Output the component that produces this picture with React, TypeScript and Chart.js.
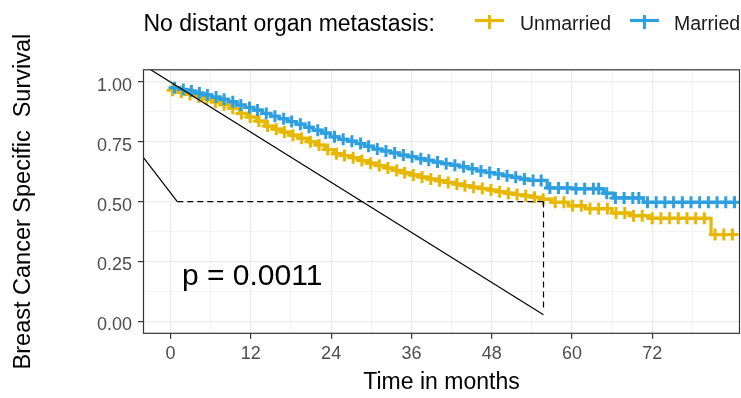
import React, { useEffect, useRef } from 'react';
import { Chart, registerables } from 'chart.js';

Chart.register(...registerables);

// ---------- data ----------
const legendTitle = 'No distant organ metastasis:';
const groupNames = ['Unmarried', 'Married'];
const groupColors = ['#E7B800', '#2E9FDF'];
const xTitle = 'Time in months';
const yTitle = 'Breast Cancer Specific  Survival';
const pValueText = 'p = 0.0011';

const xMajorTicks = [0, 12, 24, 36, 48, 60, 72];
const xMinorTicks = [6, 18, 30, 42, 54, 66, 78];
const yMajorTicks = [0, 0.25, 0.5, 0.75, 1];
const yMinorTicks = [0.125, 0.375, 0.625, 0.875];
const xLimits = [-4.05, 85.05];
const yLimits = [-0.05, 1.05];

// Unmarried: event times and survival after each step
const unmarriedTimes = [0, 1.3, 2.6, 3.9, 5.1, 6.4, 7.7, 9.0, 10.3, 11.6, 12.9, 14.1, 15.4, 16.7, 18.0, 19.3, 20.5, 21.8, 23.1, 24.4, 25.7, 27.0, 28.3, 29.5, 30.8, 32.1, 33.4, 34.7, 36.0, 37.3, 38.5, 39.8, 41.1, 42.4, 43.7, 45.0, 46.3, 47.6, 48.9, 50.2, 51.5, 52.8, 54.1, 55.4, 57.0, 59.5, 62.0, 66.0, 69.0, 71.5, 80.8];
const unmarriedSurv = [0.965, 0.956, 0.947, 0.937, 0.927, 0.916, 0.904, 0.889, 0.868, 0.853, 0.836, 0.815, 0.802, 0.790, 0.777, 0.764, 0.750, 0.736, 0.717, 0.700, 0.692, 0.683, 0.671, 0.660, 0.650, 0.640, 0.630, 0.620, 0.611, 0.602, 0.594, 0.587, 0.580, 0.573, 0.566, 0.560, 0.554, 0.548, 0.541, 0.535, 0.529, 0.524, 0.518, 0.510, 0.497, 0.482, 0.470, 0.452, 0.441, 0.430, 0.362];
const unmarriedCensor = [0.3, 1.6, 2.9, 4.2, 5.4, 6.7, 8.0, 9.3, 10.6, 11.9, 13.2, 14.5, 15.8, 17.0, 18.3, 19.6, 20.9, 22.2, 23.5, 24.8, 26.0, 27.3, 28.6, 29.9, 31.2, 32.5, 33.8, 35.0, 36.3, 37.6, 38.9, 40.2, 41.5, 42.8, 44.0, 45.3, 46.6, 47.9, 49.2, 50.5, 51.8, 53.1, 54.4, 55.7, 57.5, 58.8, 60.1, 61.4, 62.7, 64.0, 65.3, 66.6, 67.9, 69.2, 70.5, 72.0, 73.3, 74.6, 75.9, 77.2, 78.5, 79.8, 81.4, 82.7, 84.0];

// Married
const marriedTimes = [0, 1.2, 2.5, 3.6, 4.8, 6.1, 7.3, 8.6, 9.8, 11.1, 12.4, 13.7, 15.0, 16.2, 17.5, 18.8, 20.1, 21.3, 22.6, 23.9, 25.2, 26.5, 27.8, 29.0, 30.3, 31.6, 32.9, 34.2, 35.5, 36.8, 38.0, 39.3, 40.6, 41.9, 43.2, 44.5, 45.8, 47.1, 48.4, 49.7, 51.0, 52.3, 53.6, 56.3, 60.0, 64.7, 66.2, 70.7];
const marriedSurv = [0.975, 0.968, 0.961, 0.953, 0.945, 0.936, 0.927, 0.917, 0.903, 0.893, 0.882, 0.868, 0.856, 0.846, 0.834, 0.823, 0.810, 0.798, 0.786, 0.770, 0.760, 0.752, 0.742, 0.731, 0.719, 0.711, 0.703, 0.694, 0.687, 0.679, 0.672, 0.665, 0.658, 0.652, 0.645, 0.637, 0.628, 0.621, 0.615, 0.608, 0.601, 0.594, 0.588, 0.557, 0.553, 0.535, 0.515, 0.497];
const marriedCensor = [0.6, 1.9, 3.1, 4.3, 5.5, 6.8, 8.0, 9.3, 10.5, 11.8, 13.0, 14.3, 15.6, 16.9, 18.1, 19.4, 20.7, 22.0, 23.2, 24.5, 25.8, 27.1, 28.4, 29.6, 30.9, 32.2, 33.5, 34.8, 36.1, 37.4, 38.6, 39.9, 41.2, 42.5, 43.8, 45.1, 46.4, 47.7, 49.0, 50.3, 51.6, 52.9, 54.2, 55.4, 56.7, 58.0, 59.3, 60.6, 61.9, 63.2, 64.0, 65.2, 66.5, 67.8, 69.1, 70.0, 71.3, 72.6, 73.9, 75.2, 76.5, 77.8, 79.1, 80.4, 81.7, 83.0, 84.3];

// black annotation lines
const diagonalX = [-4.05, 55.75];
const diagonalY = [1.069, 0.027];
const shortLineX = [-4.05, 1.0];
const shortLineY = [0.683, 0.5];
const medianHX = [1.0, 55.75];
const medianHY = [0.5, 0.5];
const medianVX = [55.75, 55.75];
const medianVY = [0.5, 0.045];
const pValuePos = [1.7, 0.152];

// ---------- helpers ----------
const FONT = '"Liberation Sans", Arial, Helvetica, sans-serif';

function stepValue(times: number[], surv: number[], t: number) {
  let v = surv[0];
  for (let i = 0; i < times.length; i++) if (times[i] <= t) v = surv[i];
  return v;
}
function stepData(times: number[], surv: number[], censor: number[]) {
  const pts = times.map((t, i) => ({ x: t, y: surv[i] }));
  const last = censor[censor.length - 1];
  pts.push({ x: last, y: stepValue(times, surv, last) });
  return pts;
}
function censorData(times: number[], surv: number[], censor: number[]) {
  return censor.map((t) => ({ x: t, y: stepValue(times, surv, t) }));
}
function pairs(xs: number[], ys: number[]) {
  return xs.map((x, i) => ({ x, y: ys[i] }));
}

const overlayPlugin = {
  id: 'overlay',
  afterDatasetsDraw(chart: any) {
    const { ctx, chartArea, scales } = chart;
    ctx.save();
    // p-value text
    ctx.fillStyle = '#000';
    ctx.font = `30px ${FONT}`;
    ctx.textBaseline = 'alphabetic';
    ctx.textAlign = 'left';
    ctx.fillText(pValueText, scales.x.getPixelForValue(pValuePos[0]), scales.y.getPixelForValue(pValuePos[1]));
    // panel border
    ctx.strokeStyle = '#333333';
    ctx.lineWidth = 1.2;
    ctx.strokeRect(chartArea.left, chartArea.top, chartArea.right - chartArea.left, chartArea.bottom - chartArea.top);
    ctx.restore();
  },
  afterDraw(chart: any) {
    const { ctx } = chart;
    ctx.save();
    ctx.fillStyle = '#000';
    ctx.textAlign = 'left';
    ctx.textBaseline = 'alphabetic';
    ctx.font = `23px ${FONT}`;
    ctx.fillText(legendTitle, 143.5, 31);
    const keyX = [475, 630];
    const labelX = [520, 674];
    groupNames.forEach((name, i) => {
      const c = groupColors[i];
      ctx.strokeStyle = c;
      ctx.lineWidth = 3.2;
      ctx.beginPath();
      ctx.moveTo(keyX[i], 20.5);
      ctx.lineTo(keyX[i] + 29, 20.5);
      ctx.stroke();
      ctx.lineWidth = 3;
      ctx.beginPath();
      ctx.moveTo(keyX[i] + 14.5, 15);
      ctx.lineTo(keyX[i] + 14.5, 29);
      ctx.stroke();
      ctx.fillStyle = '#1a1a1a';
      ctx.font = `19.5px ${FONT}`;
      ctx.fillText(name, labelX[i], 30.4);
    });
    ctx.restore();
  },
};

export default function App() {
  const ref = useRef<HTMLCanvasElement | null>(null);
  useEffect(() => {
    document.body.style.margin = '0';
    const canvas = ref.current!;
    const isMajorX = (v: number) => xMajorTicks.includes(v);
    const isMajorY = (v: number) => yMajorTicks.includes(v);
    const lineDs = (data: any[], dash: number[], order: number) => ({
      type: 'line',
      data,
      borderColor: '#000',
      borderWidth: 1.2,
      borderDash: dash,
      pointRadius: 0,
      fill: false,
      tension: 0,
      order,
    });
    const censorDs = (data: any[], color: string, order: number, label: string) => ({
      label,
      data,
      showLine: false,
      pointStyle: 'cross',
      pointRadius: 6,
      pointBorderWidth: 3,
      pointBorderColor: color,
      pointBackgroundColor: color,
      order,
    });
    const curveDs = (data: any[], color: string, order: number, label: string) => ({
      label,
      data,
      stepped: 'before',
      borderColor: color,
      borderWidth: 3.2,
      pointRadius: 0,
      fill: false,
      order,
    });
    const chart = new Chart(canvas, {
      type: 'line',
      data: {
        datasets: [
          lineDs(pairs(diagonalX, diagonalY), [], 0),
          lineDs(pairs(shortLineX, shortLineY), [], 0),
          lineDs(pairs(medianHX, medianHY), [6, 4], 0),
          lineDs(pairs(medianVX, medianVY), [6, 4], 0),
          censorDs(censorData(marriedTimes, marriedSurv, marriedCensor), groupColors[1], 1, groupNames[1] + ' censor'),
          curveDs(stepData(marriedTimes, marriedSurv, marriedCensor), groupColors[1], 2, groupNames[1]),
          censorDs(censorData(unmarriedTimes, unmarriedSurv, unmarriedCensor), groupColors[0], 3, groupNames[0] + ' censor'),
          curveDs(stepData(unmarriedTimes, unmarriedSurv, unmarriedCensor), groupColors[0], 4, groupNames[0]),
        ] as any,
      },
      options: {
        responsive: false,
        animation: false,
        layout: { autoPadding: false, padding: { top: 69.8, left: 0, right: 1.5, bottom: 0 } },
        plugins: { legend: { display: false }, tooltip: { enabled: false } },
        scales: {
          x: {
            type: 'linear',
            min: xLimits[0],
            max: xLimits[1],
            afterBuildTicks: (s: any) => {
              s.ticks = [...xMajorTicks, ...xMinorTicks].sort((a, b) => a - b).map((v) => ({ value: v }));
            },
            afterFit: (s: any) => {
              s.height = 398 - 333.3;
            },
            ticks: {
              autoSkip: false,
              maxRotation: 0,
              padding: 4,
              color: '#4d4d4d',
              font: { family: FONT, size: 18 },
              callback: (v: any) => (isMajorX(Number(v)) ? String(v) : ''),
            },
            grid: {
              color: '#ebebeb',
              lineWidth: (c: any) => (isMajorX(c.tick?.value) ? 1.2 : 0.6),
              tickColor: (c: any) => (isMajorX(c.tick?.value) ? '#333333' : 'rgba(0,0,0,0)'),
              tickWidth: 1.2,
              tickLength: 5.5,
            },
            border: { display: false },
            title: {
              display: true,
              text: xTitle,
              color: '#000',
              font: { family: FONT, size: 23 },
              padding: { top: 0, bottom: 2 },
            },
          },
          y: {
            type: 'linear',
            min: yLimits[0],
            max: yLimits[1],
            afterBuildTicks: (s: any) => {
              s.ticks = [...yMajorTicks, ...yMinorTicks].sort((a, b) => a - b).map((v) => ({ value: v }));
            },
            afterFit: (s: any) => {
              s.width = 143.5;
            },
            ticks: {
              autoSkip: false,
              padding: 6,
              labelOffset: 4,
              color: '#4d4d4d',
              font: { family: FONT, size: 18 },
              callback: (v: any) => (isMajorY(Number(v)) ? Number(v).toFixed(2) : ''),
            },
            grid: {
              color: '#ebebeb',
              lineWidth: (c: any) => (isMajorY(c.tick?.value) ? 1.2 : 0.6),
              tickColor: (c: any) => (isMajorY(c.tick?.value) ? '#333333' : 'rgba(0,0,0,0)'),
              tickWidth: 1.2,
              tickLength: 5.5,
            },
            border: { display: false },
            title: {
              display: true,
              text: yTitle,
              color: '#000',
              font: { family: FONT, size: 23.5 },
              padding: { top: 9, bottom: 0 },
            },
          },
        },
      } as any,
      plugins: [overlayPlugin],
    });
    return () => chart.destroy();
  }, []);
  return (
    <div style={{ width: 741, height: 398 }}>
      <canvas ref={ref} width={741} height={398} style={{ display: 'block' }} />
    </div>
  );
}
